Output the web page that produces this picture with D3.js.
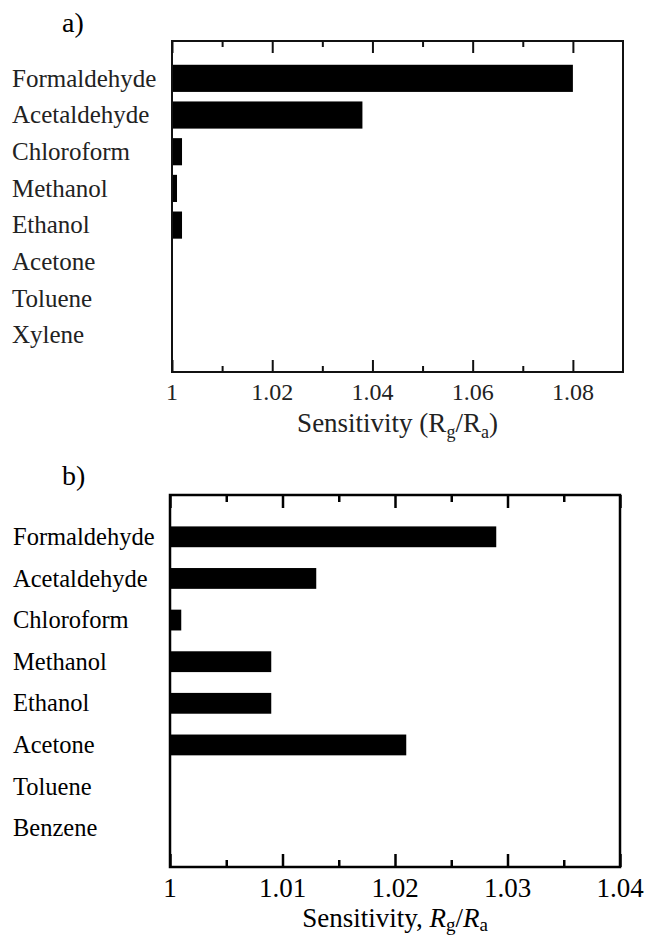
<!DOCTYPE html>
<html>
<head>
<meta charset="utf-8">
<script src="https://cdn.jsdelivr.net/npm/d3@7"></script>
<style>
  body { margin: 0; background: #fff; }
  svg text { font-family: "Liberation Serif", "DejaVu Serif", serif; }
</style>
</head>
<body>
<svg width="648" height="935"></svg>
<script>
// panel a data
var gasesA = ['Formaldehyde', 'Acetaldehyde', 'Chloroform', 'Methanol', 'Ethanol', 'Acetone', 'Toluene', 'Xylene'];
var sensA = [1.080, 1.038, 1.002, 1.001, 1.002, 1.000, 1.000, 1.000];
var majorA = [1, 1.02, 1.04, 1.06, 1.08];
var minorA = [1.01, 1.03, 1.05, 1.07];

// panel b data
var gasesB = ['Formaldehyde', 'Acetaldehyde', 'Chloroform', 'Methanol', 'Ethanol', 'Acetone', 'Toluene', 'Benzene'];
var sensB = [1.029, 1.013, 1.001, 1.009, 1.009, 1.021, 1.000, 1.000];
var majorB = [1, 1.01, 1.02, 1.03, 1.04];
var minorB = [1.005, 1.015, 1.025, 1.035];

var svg = d3.select('svg');

function fmt(v) { return v === 1 ? '1' : v.toFixed(2); }

function panel(o) {
    var g = svg.append('g');
    var x = d3.scaleLinear().domain(o.domain).range([o.left, o.right]);
    var y = d3.scaleBand().domain(o.gases).range(o.band).paddingInner(o.pad).paddingOuter(o.pad / 2);

    // bars
    g.selectAll('.bar')
        .data(o.values)
        .enter().append('rect')
        .attr('class', 'bar')
        .attr('x', x(o.domain[0]))
        .attr('y', function(d, i) { return y(o.gases[i]); })
        .attr('width', function(d) { return x(d) - x(o.domain[0]); })
        .attr('height', y.bandwidth())
        .attr('fill', '#000');

    // inward ticks, bottom and top
    function ticks(axisFn, vals, size, ypos) {
        var a = g.append('g')
            .attr('transform', 'translate(0,' + ypos + ')')
            .call(axisFn(x).tickValues(vals).tickSize(size).tickFormat(''));
        a.select('.domain').remove();
        a.selectAll('line').attr('stroke', o.color).attr('stroke-width', o.sw);
    }
    ticks(d3.axisBottom, o.major, -o.majorLen, o.bottom);
    ticks(d3.axisBottom, o.minor, -o.minorLen, o.bottom);
    ticks(d3.axisTop, o.major, -o.majorLen, o.top);
    ticks(d3.axisTop, o.minor, -o.minorLen, o.top);

    // frame
    g.append('rect')
        .attr('x', o.left).attr('y', o.top)
        .attr('width', o.right - o.left).attr('height', o.bottom - o.top)
        .attr('fill', 'none').attr('stroke', o.color).attr('stroke-width', o.sw);

    // tick labels
    g.selectAll('.tl')
        .data(o.major)
        .enter().append('text')
        .attr('x', function(d) { return x(d); })
        .attr('y', o.tickY)
        .attr('text-anchor', 'middle')
        .attr('font-size', o.tickFont)
        .attr('fill', o.textColor)
        .text(fmt);

    // category labels
    g.selectAll('.cl')
        .data(o.gases)
        .enter().append('text')
        .attr('x', o.labelX)
        .attr('y', function(d) { return y(d) + y.bandwidth() / 2; })
        .attr('dy', '0.33em')
        .attr('font-size', o.labelFont)
        .attr('fill', o.textColor)
        .text(function(d) { return d; });

    // panel letter
    svg.append('text')
        .attr('x', 62).attr('y', o.letterY)
        .attr('font-size', 28)
        .attr('fill', '#000')
        .text(o.letter);

    // axis title
    var t = g.append('text')
        .attr('x', (o.left + o.right) / 2)
        .attr('y', o.titleY)
        .attr('text-anchor', 'middle')
        .attr('font-size', o.titleFont)
        .attr('fill', o.textColor);
    o.title(t);
}

panel({
    gases: gasesA, values: sensA, major: majorA, minor: minorA,
    domain: [1, 1.09], left: 172, right: 623, top: 41, bottom: 372,
    band: [60, 353.5], pad: 0.26,
    majorLen: 12, minorLen: 6, sw: 2, color: '#111', textColor: '#222',
    tickY: 400, tickFont: 24, labelX: 12, labelFont: 25,
    letter: 'a)', letterY: 32, titleY: 432, titleFont: 27,
    title: function(t) {
        t.append('tspan').text('Sensitivity (R');
        t.append('tspan').attr('font-size', 18).attr('dy', 6).text('g');
        t.append('tspan').attr('dy', -6).text('/R');
        t.append('tspan').attr('font-size', 18).attr('dy', 6).text('a');
        t.append('tspan').attr('dy', -6).text(')');
    }
});

panel({
    gases: gasesB, values: sensB, major: majorB, minor: minorB,
    domain: [1, 1.04], left: 170, right: 620, top: 495, bottom: 867,
    band: [516, 849], pad: 0.5,
    majorLen: 13, minorLen: 7, sw: 2.5, color: '#000', textColor: '#000',
    tickY: 897, tickFont: 27, labelX: 13, labelFont: 24.5,
    letter: 'b)', letterY: 485, titleY: 927, titleFont: 27,
    title: function(t) {
        t.append('tspan').text('Sensitivity, ');
        t.append('tspan').attr('font-style', 'italic').text('R');
        t.append('tspan').attr('font-size', 19).attr('dy', 4).text('g');
        t.append('tspan').attr('dy', -4).text('/');
        t.append('tspan').attr('font-style', 'italic').text('R');
        t.append('tspan').attr('font-size', 19).attr('dy', 4).text('a');
    }
});
</script>
</body>
</html>
